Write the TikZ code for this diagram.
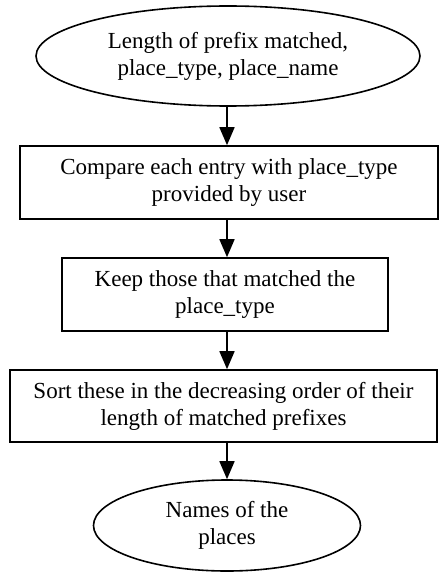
\documentclass[tikz,border=0pt]{standalone}
\usepackage{fontspec}
\setmainfont{Liberation Serif}
\usetikzlibrary{shapes.geometric,arrows.meta}
\begin{document}
\begin{tikzpicture}[x=1pt,y=-1pt,
  base/.style={draw=black,line width=1.6pt,align=center,inner sep=0pt,
    font=\fontsize{23}{27}\selectfont},
  oval/.style={base,ellipse},
  stepbox/.style={base,rectangle},
  arr/.style={line width=1.6pt,-{Triangle[length=18pt,width=15pt]}}]
\useasboundingbox (0,0) rectangle (440,572);
\node[oval,minimum width=384pt,minimum height=100pt] (top) at (228,56)
  {Length of prefix matched,\\place\_type, place\_name};
\node[stepbox,minimum width=418pt,minimum height=73pt] (b1) at (229,182.5)
  {Compare each entry with place\_type\\provided by user};
\node[stepbox,minimum width=326pt,minimum height=73pt] (b2) at (225,294.5)
  {Keep those that matched the\\place\_type};
\node[stepbox,minimum width=427pt,minimum height=72pt] (b3) at (223.5,406)
  {Sort these in the decreasing order of their\\length of matched prefixes};
\node[oval,minimum width=267pt,minimum height=91pt] (bot) at (227,525.5)
  {Names of the\\places};
\coordinate (ax) at (227,0);
\draw[arr] (ax |- top.south) -- (ax |- b1.north);
\draw[arr] (ax |- b1.south) -- (ax |- b2.north);
\draw[arr] (ax |- b2.south) -- (ax |- b3.north);
\draw[arr] (ax |- b3.south) -- (bot.north);
\end{tikzpicture}
\end{document}
